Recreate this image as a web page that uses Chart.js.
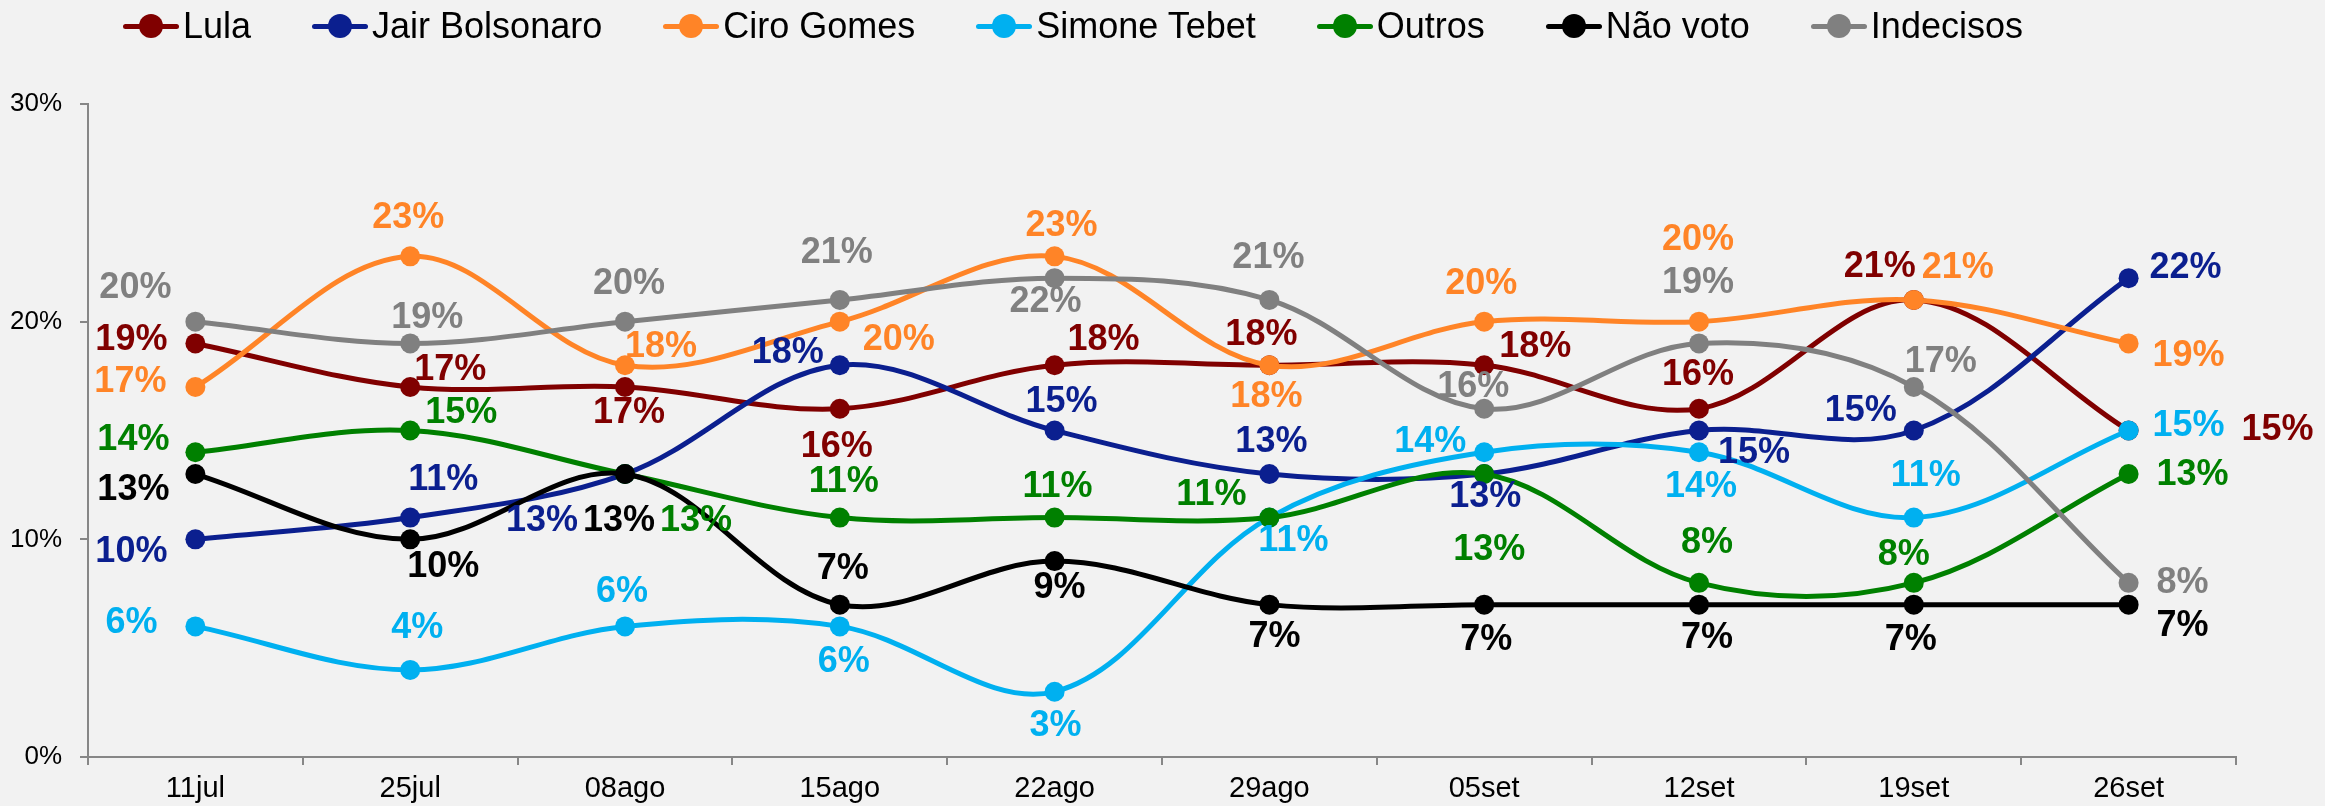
<!DOCTYPE html>
<html>
<head>
<meta charset="utf-8">
<title>Intenção de voto</title>
<script src="https://cdn.jsdelivr.net/npm/chart.js@4.4.1/dist/chart.umd.min.js"></script>
<style>
  body { margin: 0; background: #f2f2f2; }
  #wrap { position: relative; width: 2325px; height: 806px; }
  #legend {
    position: absolute; left: 123px; top: 5px; height: 42px;
    display: flex; align-items: center;
    font-family: 'Liberation Sans', Arial, sans-serif; font-size: 36px; color: #000;
  }
  .item { display: flex; align-items: center; margin-right: 61px; white-space: nowrap; }
  .mk { position: relative; width: 56px; height: 24px; margin-right: 4px; }
  .mk .ln { position: absolute; left: 0; top: 9.5px; width: 56px; height: 5px; border-radius: 2.5px; }
  .mk .dt { position: absolute; left: 16px; top: 0; width: 24px; height: 24px; border-radius: 50%; }
</style>
</head>
<body>
<div id="wrap">
  <div id="legend"></div>
  <canvas id="chart" width="2325" height="806"></canvas>
</div>
<script>
// survey dates
const categories = ["11jul", "25jul", "08ago", "15ago", "22ago", "29ago", "05set", "12set", "19set", "26set"];

// values in %
const lula = [19, 17, 17, 16, 18, 18, 18, 16, 21, 15];
const bolsonaro = [10, 11, 13, 18, 15, 13, 13, 15, 15, 22];
const ciro = [17, 23, 18, 20, 23, 18, 20, 20, 21, 19];
const tebet = [6, 4, 6, 6, 3, 11, 14, 14, 11, 15];
const outros = [14, 15, 13, 11, 11, 11, 13, 8, 8, 13];
const naoVoto = [13, 10, 13, 7, 9, 7, 7, 7, 7, 7];
const indecisos = [20, 19, 20, 21, 22, 21, 16, 19, 17, 8];

const seriesNames = ["Lula", "Jair Bolsonaro", "Ciro Gomes", "Simone Tebet", "Outros", "Não voto", "Indecisos"];
const seriesValues = [lula, bolsonaro, ciro, tebet, outros, naoVoto, indecisos];
const seriesColors = ["#800000", "#0b1f8f", "#ff8427", "#00b0f0", "#008000", "#000000", "#808080"];

// where each value label sits relative to its point (px)
const labelOffsets = [
  [[-64, -3], [40, -17], [4, 26], [-3, 38], [49, -25], [-8, -30], [51, -18], [-1, -34], [-34, -33], [149, 0]],
  [[-64, 13], [33, -37], [-83, 47], [-52, -12], [7, -28], [2, -32], [1, 23], [55, 23], [-53, -19], [57, -10]],
  [[-65, -5], [-2, -38], [36, -18], [59, 18], [7, -30], [-3, 32], [-3, -38], [-1, -82], [44, -32], [60, 13]],
  [[-64, -3], [7, -42], [-3, -34], [4, 36], [1, 34], [24, 24], [-54, -10], [2, 35], [12, -41], [60, -4]],
  [[-62, -12], [51, -17], [71, 47], [4, -35], [3, -30], [-58, -22], [5, 76], [8, -40], [-10, -28], [64, 1]],
  [[-62, 16], [33, 28], [-6, 47], [3, -36], [5, 27], [5, 32], [2, 35], [8, 33], [-3, 35], [54, 21]],
  [[-60, -34], [17, -25], [4, -38], [-3, -47], [-9, 24], [-1, -42], [-11, -22], [-1, -60], [27, -25], [54, 0]]
];

const axisColor = "#878787";
const fontFamily = "'Liberation Sans', Arial, sans-serif";

// html legend
const legendEl = document.getElementById("legend");
seriesNames.forEach(function (name, i) {
  const item = document.createElement("div");
  item.className = "item";
  item.innerHTML =
    '<span class="mk"><span class="ln" style="background:' + seriesColors[i] + '"></span>' +
    '<span class="dt" style="background:' + seriesColors[i] + '"></span></span>' + name;
  legendEl.appendChild(item);
});

const valueLabels = {
  id: "valueLabels",
  afterDatasetsDraw(chart) {
    const ctx = chart.ctx;
    ctx.save();
    ctx.font = "bold 36px " + fontFamily;
    ctx.textAlign = "center";
    ctx.textBaseline = "middle";
    chart.data.datasets.forEach(function (ds, i) {
      const meta = chart.getDatasetMeta(i);
      meta.data.forEach(function (pt, j) {
        const off = labelOffsets[i][j];
        ctx.fillStyle = ds.borderColor;
        ctx.fillText(ds.data[j] + "%", pt.x + off[0], pt.y + off[1]);
      });
    });
    ctx.restore();
  }
};

const ctx = document.getElementById("chart").getContext("2d");
new Chart(ctx, {
  type: "line",
  data: {
    labels: categories,
    datasets: seriesValues.map(function (vals, i) {
      return {
        label: seriesNames[i],
        data: vals,
        borderColor: seriesColors[i],
        backgroundColor: seriesColors[i],
        pointBackgroundColor: seriesColors[i],
        pointBorderWidth: 0,
        pointRadius: 10,
        borderWidth: 5,
        tension: 0.35,
        fill: false,
        order: seriesNames.length - 1 - i
      };
    })
  },
  options: {
    responsive: false,
    devicePixelRatio: 1,
    animation: false,
    layout: { padding: { top: 104, right: 89, bottom: 0, left: 0 } },
    plugins: {
      legend: { display: false },
      tooltip: { enabled: false }
    },
    scales: {
      x: {
        offset: true,
        grid: { offset: true, drawOnChartArea: false, color: axisColor, lineWidth: 2, tickLength: 8 },
        border: { color: axisColor, width: 2 },
        ticks: { color: "#000", font: { family: fontFamily, size: 29 }, padding: 7, maxRotation: 0 },
        afterFit: function (s) { s.height = 49; }
      },
      y: {
        min: 0,
        max: 30,
        grid: { drawOnChartArea: false, color: axisColor, lineWidth: 2, tickLength: 8 },
        border: { color: axisColor, width: 2 },
        ticks: {
          stepSize: 10,
          color: "#000",
          padding: 18,
          font: { family: fontFamily, size: 26 },
          callback: function (v) { return v + "%"; }
        },
        afterFit: function (s) { s.width = 88; }
      }
    }
  },
  plugins: [valueLabels]
});
</script>
</body>
</html>
